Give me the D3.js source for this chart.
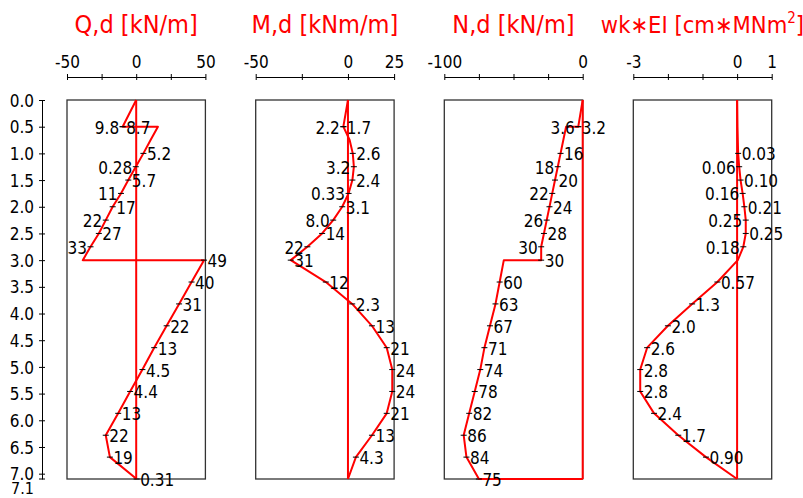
<!DOCTYPE html>
<html><head><meta charset="utf-8">
<script src="https://cdn.jsdelivr.net/npm/d3@7"></script>
<style>
body{margin:0;background:#fff}
svg{display:block}
text{font-family:"DejaVu Sans Condensed","DejaVu Sans",sans-serif;font-stretch:condensed}
</style>
</head><body>
<svg id="c" width="803" height="498"></svg>
<script>
// ---------- data ----------
const depthTicks = [0,0.5,1.0,1.5,2.0,2.5,3.0,3.5,4.0,4.5,5.0,5.5,6.0,6.5,7.0];
const depthMax = 7.1;

const titles = ["Q,d [kN/m]", "M,d [kNm/m]", "N,d [kN/m]", "wk\u2217EI [cm\u2217MNm"];
const domains = [[-50,50],[-50,25],[-100,0],[-3,1]];
const axisTicks = [[-50,-25,0,25,50],[-50,-25,0,25],[-100,-75,-50,-25,0],[-3,-2,-1,0,1]];
const axisLabels = [[-50,0,50],[-50,0,25],[-100,0],[-3,0,1]];

const qDepth = [0,0.5,0.5,0.75,1.0,1.25,1.5,1.75,2.0,2.25,2.5,2.75,3.0,3.0,3.41,3.82,4.23,4.64,5.05,5.46,5.87,6.28,6.69,7.1];
const qValue = [0,-9.8,15.7,10.4,5.2,-0.28,-5.7,-11,-17,-22,-27,-33,-38.6,49,40,31,22,13,4.5,-4.4,-13,-22,-19,0.31];

const mDepth = [0,0.5,0.75,1.0,1.25,1.5,1.75,2.0,2.25,2.5,2.75,3.0,3.41,3.82,4.23,4.64,5.05,5.46,5.87,6.28,6.69,7.1];
const mValue = [0,-2.5,0.9,2.6,3.2,2.4,0.33,-3.1,-8.0,-14,-22,-31,-12,2.3,13,21,24,24,21,13,4.3,0];

const nDepth = [0,0.5,0.5,0.75,1.0,1.25,1.5,1.75,2.0,2.25,2.5,2.75,3.0,3.0,3.41,3.82,4.23,4.64,5.05,5.46,5.87,6.28,6.69,7.1,7.1];
const nValue = [0,-3.2,-12,-14,-16,-18,-20,-22,-24,-26,-28,-30,-30,-57,-60,-63,-67,-71,-74,-78,-82,-86,-84,-75,0];

const wDepth = [0,0.5,0.75,1.0,1.25,1.5,1.75,2.0,2.25,2.5,2.75,3.0,3.41,3.82,4.23,4.64,5.05,5.46,5.87,6.28,6.69,7.1];
const wValue = [0,0.01,0.02,0.03,0.06,0.10,0.16,0.21,0.25,0.25,0.18,0.02,-0.57,-1.3,-2.0,-2.6,-2.8,-2.8,-2.4,-1.7,-0.90,0];

// labels: [depth, value at tick, text, side]
const qLabels = [[0.5,-9.8,"9.8","l"],[0.5,-9.8,"8.7","r"],[1.0,5.2,"5.2","r"],[1.25,-0.28,"0.28","l"],
  [1.5,-5.7,"5.7","r"],[1.75,-11,"11","l"],[2.0,-17,"17","r"],[2.25,-22,"22","l"],[2.5,-27,"27","r"],
  [2.75,-33,"33","l"],[3.0,49,"49","r"],[3.41,40,"40","r"],[3.82,31,"31","r"],[4.23,22,"22","r"],
  [4.64,13,"13","r"],[5.05,4.5,"4.5","r"],[5.46,-4.4,"4.4","r"],[5.87,-13,"13","r"],[6.28,-22,"22","r"],
  [6.69,-19,"19","r"],[7.1,0.31,"0.31","r"]];
const mLabels = [[0.5,-2.5,"2.2","l"],[0.5,-2.5,"1.7","r"],[1.0,2.6,"2.6","r"],[1.25,3.2,"3.2","l"],
  [1.5,2.4,"2.4","r"],[1.75,0.33,"0.33","l"],[2.0,-3.1,"3.1","r"],[2.25,-8.0,"8.0","l"],[2.5,-14,"14","r"],
  [2.75,-22,"22","l"],[3.0,-31,"31","r"],[3.41,-12,"12","r"],[3.82,2.3,"2.3","r"],[4.23,13,"13","r"],
  [4.64,21,"21","r"],[5.05,24,"24","r"],[5.46,24,"24","r"],[5.87,21,"21","r"],[6.28,13,"13","r"],
  [6.69,4.3,"4.3","r"]];
const nLabels = [[0.5,-3.2,"3.6","l"],[0.5,-3.2,"3.2","r"],[1.0,-16,"16","r"],[1.25,-18,"18","l"],
  [1.5,-20,"20","r"],[1.75,-22,"22","l"],[2.0,-24,"24","r"],[2.25,-26,"26","l"],[2.5,-28,"28","r"],
  [2.75,-30,"30","l"],[3.0,-30,"30","r"],[3.41,-60,"60","r"],[3.82,-63,"63","r"],[4.23,-67,"67","r"],
  [4.64,-71,"71","r"],[5.05,-74,"74","r"],[5.46,-78,"78","r"],[5.87,-82,"82","r"],[6.28,-86,"86","r"],
  [6.69,-84,"84","r"],[7.1,-75,"75","r"]];
const wLabels = [[1.0,0.03,"0.03","r"],[1.25,0.06,"0.06","l"],[1.5,0.10,"0.10","r"],[1.75,0.16,"0.16","l"],
  [2.0,0.21,"0.21","r"],[2.25,0.25,"0.25","l"],[2.5,0.25,"0.25","r"],[2.75,0.18,"0.18","l"],
  [3.41,-0.57,"0.57","r"],[3.82,-1.3,"1.3","r"],[4.23,-2.0,"2.0","r"],[4.64,-2.6,"2.6","r"],
  [5.05,-2.8,"2.8","r"],[5.46,-2.8,"2.8","r"],[5.87,-2.4,"2.4","r"],[6.28,-1.7,"1.7","r"],[6.69,-0.90,"0.90","r"]];

const series = [[qDepth,qValue,qLabels],[mDepth,mValue,mLabels],[nDepth,nValue,nLabels],[wDepth,wValue,wLabels]];

// ---------- drawing ----------
const svg = d3.select("#c");
const RED = "#ff0000";
const y = d3.scaleLinear().domain([0, depthMax]).range([100, 479]);
const panelLeft = [67, 255.7, 444.3, 633.3];
const panelWidth = 138.4;

// left depth axis
const ya = svg.append("g").attr("transform","translate(42,0)")
  .call(d3.axisLeft(y).tickValues(depthTicks).tickFormat(d3.format(".1f")).tickSize(3).tickPadding(5).tickSizeOuter(0));
ya.selectAll(".tick line").attr("x1",-3).attr("x2",3).attr("stroke","#000");
ya.select(".domain").attr("stroke","#000");
ya.selectAll(".tick text").attr("font-size",17).attr("fill","#000").attr("dy","0.36em");
ya.append("line").attr("x1",-3).attr("x2",3).attr("y1",y(depthMax)).attr("y2",y(depthMax)).attr("stroke","#000");
ya.append("text").attr("x",-8).attr("y",y(depthMax)+15).attr("text-anchor","end")
  .attr("font-size",16).attr("fill","#000").text(d3.format(".1f")(depthMax));

series.forEach((s, i) => {
  const [dep, val, labs] = s;
  const x = d3.scaleLinear().domain(domains[i]).range([panelLeft[i], panelLeft[i] + panelWidth]);
  const g = svg.append("g");

  // title
  const t = g.append("text").attr("x", (x.range()[0]+x.range()[1])/2).attr("y", 33)
    .attr("text-anchor","middle").attr("font-size", i === 3 ? 23.5 : 25).attr("fill",RED).text(titles[i]);
  if (i === 3) {
    t.append("tspan").attr("font-size",15).attr("dy",-10).text("2");
    t.append("tspan").attr("dy",10).text("]");
  }

  // top axis
  const ax = g.append("g").attr("transform","translate(0,77)")
    .call(d3.axisTop(x).tickValues(axisTicks[i]).tickSize(3).tickPadding(6).tickSizeOuter(0)
      .tickFormat(d => axisLabels[i].includes(d) ? String(d) : ""));
  ax.selectAll(".tick line").attr("y1",-3).attr("y2",3).attr("stroke","#000");
  ax.select(".domain").attr("stroke","#000");
  ax.selectAll(".tick text").attr("font-size",17).attr("fill","#000");

  // box
  g.append("rect").attr("x",x.range()[0]).attr("y",y(0))
    .attr("width",x.range()[1]-x.range()[0]).attr("height",y(depthMax)-y(0))
    .attr("fill","none").attr("stroke","#333").attr("stroke-width",1.3);

  // zero line
  g.append("line").attr("x1",x(0)).attr("x2",x(0)).attr("y1",y(0)).attr("y2",y(depthMax))
    .attr("stroke",RED).attr("stroke-width",2);

  // curve
  const pts = dep.map((d,k) => [d, val[k]]);
  g.append("path").datum(pts)
    .attr("d", d3.line().x(p => x(p[1])).y(p => y(p[0])))
    .attr("fill","none").attr("stroke",RED).attr("stroke-width",2).attr("stroke-linejoin","round");

  // labels
  labs.forEach(l => {
    const px = x(l[1]), py = y(l[0]);
    g.append("line").attr("x1",px-3).attr("x2",px+3).attr("y1",py).attr("y2",py)
      .attr("stroke","#000").attr("stroke-width",1);
    g.append("text").attr("x", l[3]==="r" ? px+3.5 : px-3.5).attr("y", py+7)
      .attr("text-anchor", l[3]==="r" ? "start" : "end")
      .attr("font-size",17).attr("fill","#000").text(l[2]);
  });
});
</script>
</body></html>
